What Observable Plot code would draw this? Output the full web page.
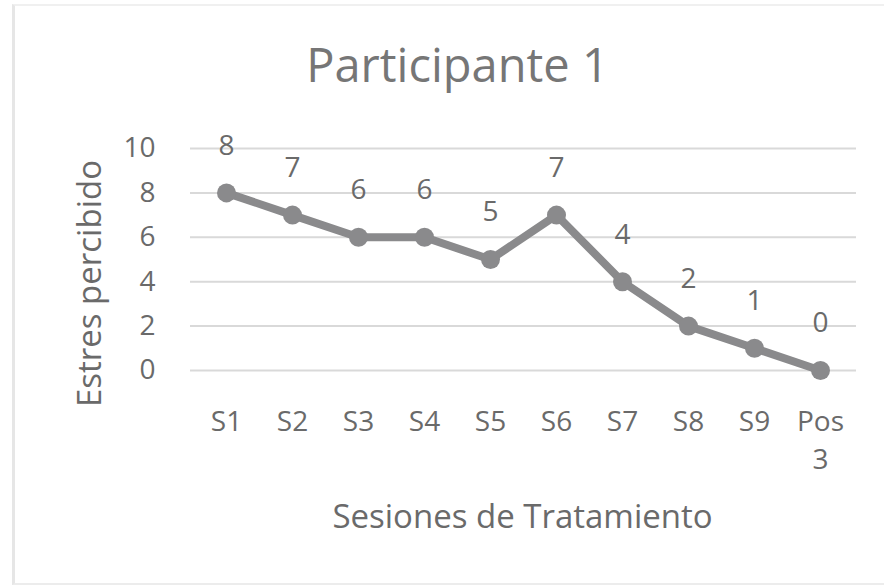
<!DOCTYPE html>
<html>
<head>
<meta charset="utf-8">
<script src="https://cdn.jsdelivr.net/npm/d3@7"></script>
<script src="https://cdn.jsdelivr.net/npm/@observablehq/plot@0.6"></script>
<style>
  html, body { margin: 0; padding: 0; background: #fff; }
  #wrap { position: relative; width: 884px; height: 585px; overflow: hidden; font-family: "Open Sans", sans-serif; }
  #frame { position: absolute; left: 12px; top: 4px; width: 900px; height: 577px;
           border-left: 3px solid #e6e6e6; border-top: 2px solid #f0f0f0; border-bottom: 2px solid #ececec; pointer-events: none; }
  #title { position: absolute; left: 0; top: 41px; width: 915px; text-align: center;
           font-size: 47px; color: #767676; line-height: 1; font-weight: 400; }
  #chart { position: absolute; left: 0; top: 0; }
</style>
</head>
<body>
<div id="wrap">
  <div id="frame"></div>
  <div id="chart"></div>
  <div id="title">Participante 1</div>
</div>
<script>
// Data
const sessions = ["S1", "S2", "S3", "S4", "S5", "S6", "S7", "S8", "S9", "Pos 3"];
const stress = [8, 7, 6, 6, 5, 7, 4, 2, 1, 0];
const yTicks = [0, 2, 4, 6, 8, 10];
const yLabel = "Estres percibido";
const xLabel = "Sesiones de Tratamiento";

const data = sessions.map((s, i) => ({session: s, value: stress[i]}));

const textColor = "#6a6a6a";
const lineColor = "#8a8a8c";

const chart = Plot.plot({
  width: 884,
  height: 585,
  marginLeft: 190,
  marginRight: 28,
  marginTop: 148,
  marginBottom: 215,
  style: {fontFamily: "'Open Sans', sans-serif", background: "transparent"},
  x: {type: "point", domain: sessions, padding: 0.5},
  y: {domain: [0, 10]},
  marks: [
    Plot.gridY(yTicks, {stroke: "#d9d9d9", strokeWidth: 2, strokeOpacity: 1}),
    Plot.axisY(yTicks, {tickSize: 0, tickPadding: 35, fontSize: 28, color: textColor, label: null}),
    Plot.axisX(sessions, {tickSize: 0, tickPadding: 33, fontSize: 28, color: textColor, label: null,
      lineHeight: 1.36, tickFormat: d => d.replace(" ", "\n")}),
    Plot.text([yLabel], {frameAnchor: "left", rotate: -90, lineAnchor: "top", textAnchor: "middle",
      dx: -113, dy: 24, fontSize: 33, fill: textColor}),
    Plot.text([xLabel], {frameAnchor: "bottom", lineAnchor: "middle", dy: 147, dx: -1,
      fontSize: 33, fill: textColor}),
    Plot.line(data, {x: "session", y: "value", stroke: lineColor, strokeWidth: 8, strokeLinejoin: "round"}),
    Plot.dot(data, {x: "session", y: "value", r: 9.5, fill: lineColor, stroke: null}),
    Plot.text(data, {x: "session", y: "value", text: d => String(d.value), dy: -47, lineAnchor: "middle",
      fontSize: 28, fill: textColor})
  ]
});
document.getElementById("chart").appendChild(chart);
</script>
</body>
</html>
